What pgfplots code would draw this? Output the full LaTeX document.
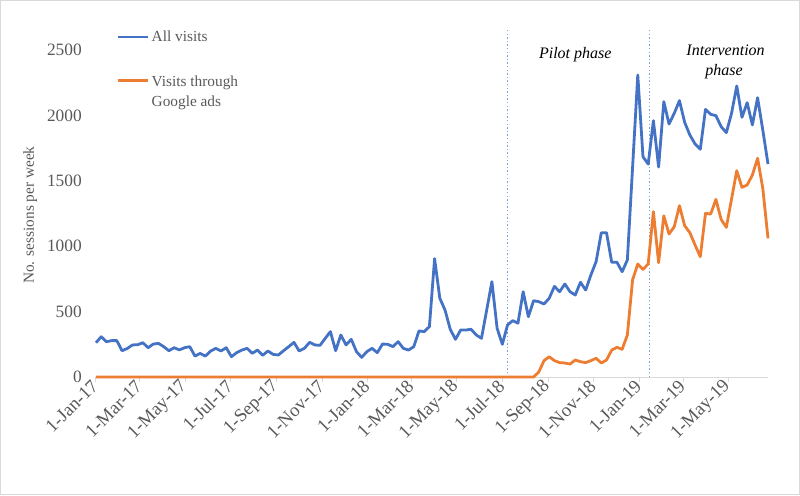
\documentclass[border=0pt]{standalone}
\usepackage{fontspec}
\setmainfont{Liberation Serif}
\usepackage{pgfplots}
\pgfplotsset{compat=1.18}
\usepackage{pgfplotstable}
\definecolor{exblue}{HTML}{4472C4}
\definecolor{exorange}{HTML}{ED7D31}
\definecolor{txtgray}{HTML}{595959}
\definecolor{axgray}{HTML}{D9D9D9}
\definecolor{dotblue}{HTML}{7EA0DC}
\newcommand\chartfont{\fontsize{11.5}{15}\selectfont}
\newcommand\tickfont{\fontsize{13}{15}\selectfont}
\newcommand\xtickfont{\fontsize{14}{16}\selectfont}

\pgfplotstableread{
day all ads
0 262 0
7 308 0
14 270 0
21 278 0
28 278 0
35 201 0
42 218 0
49 245 0
56 247 0
63 262 0
70 224 0
77 252 0
84 257 0
91 232 0
98 201 0
105 224 0
112 207 0
119 224 0
126 232 0
133 160 0
140 180 0
147 160 0
154 198 0
161 219 0
168 199 0
175 224 0
182 155 0
189 186 0
196 206 0
203 219 0
210 181 0
217 206 0
224 166 0
231 199 0
238 173 0
245 168 0
252 201 0
259 232 0
266 265 0
273 199 0
280 219 0
287 265 0
294 245 0
301 242 0
308 295 0
315 347 0
322 201 0
329 321 0
336 245 0
343 288 0
350 194 0
357 150 0
364 194 0
371 219 0
378 186 0
385 252 0
392 250 0
399 232 0
406 270 0
413 219 0
420 206 0
427 232 0
434 352 0
441 347 0
448 385 0
455 905 0
462 602 0
469 512 0
476 365 0
483 288 0
490 359 0
497 359 0
504 365 0
511 321 0
518 296 0
525 512 0
532 729 0
539 372 0
546 250 0
553 398 0
560 431 0
567 411 0
574 652 0
581 461 0
588 583 0
595 576 38
602 558 125
609 602 155
616 693 125
623 652 110
630 711 107
637 652 99
644 627 130
651 724 117
658 665 110
665 780 125
672 882 143
679 1103 107
686 1103 130
693 877 206
700 877 227
707 805 212
714 895 321
721 1600 742
728 2309 864
735 1684 823
742 1628 864
749 1960 1264
756 1605 874
763 2105 1233
770 1934 1093
777 2016 1149
784 2113 1310
791 1947 1157
798 1850 1103
805 1781 1009
812 1741 920
819 2046 1251
826 2008 1246
833 1998 1358
840 1914 1205
847 1868 1144
854 2016 1360
861 2225 1577
868 1985 1450
875 2097 1468
882 1927 1544
889 2135 1672
896 1888 1442
903 1628 1060
}\datatable

\begin{document}
\begin{tikzpicture}
\begin{axis}[
  scale only axis, width=504pt, height=245.25pt,
  xmin=0, xmax=903, ymin=0, ymax=2500,
  clip=false,
  axis x line*=bottom, axis y line*=left,
  x axis line style={draw=axgray, line width=0.75pt, -},
  y axis line style={draw=none},
  xtick={0,59,120,181,243,304,365,424,485,546,608,669,730,789,850},
  xticklabels={1-Jan-17,1-Mar-17,1-May-17,1-Jul-17,1-Sep-17,1-Nov-17,1-Jan-18,1-Mar-18,1-May-18,1-Jul-18,1-Sep-18,1-Nov-18,1-Jan-19,1-Mar-19,1-May-19},
  xtick style={draw=axgray, line width=0.75pt},
  tick align=outside,
  major tick length=4pt,
  ytick={0,500,1000,1500,2000,2500},
  ytick style={draw=none},
  xticklabel style={rotate=45, anchor=east, font=\xtickfont, text=txtgray, inner sep=1pt},
  yticklabel style={font=\tickfont, text=txtgray, inner sep=0pt, xshift=-6.5pt},
  /pgf/number format/assume math mode=true,
  /pgf/number format/1000 sep={},
  ylabel={No. sessions per week},
  every axis y label/.style={at={(rel axis cs:-0.098,0.495)}, rotate=90, anchor=center, font=\chartfont, text=txtgray},
  legend style={at={(rel axis cs:0.0238,1.076)}, anchor=north west, draw=none, fill=none, font=\chartfont, text=txtgray, row sep=18pt},
  legend cell align=left,
  legend image code/.code={\draw[#1] (0pt,0pt) -- (22.5pt,0pt);},
]
\addplot[forget plot, dotblue, dash pattern=on 1.1pt off 1.6pt, line width=1.1pt] coordinates {(553,0) (553,2650)};
\addplot[forget plot, dotblue, dash pattern=on 1.1pt off 1.6pt, line width=1.1pt] coordinates {(744,0) (744,2650)};
\addplot[exblue, line width=2.1pt, line join=round] table[x=day, y=all] {\datatable};
\addlegendentry{All visits}
\addplot[exorange, line width=2.1pt, line join=round] table[x=day, y=ads] {\datatable};
\addlegendentry{\begin{tabular}[t]{@{}l@{}}Visits through\\Google ads\end{tabular}}
\node[font=\fontsize{12}{15}\selectfont\itshape] at (axis cs:644,2462) {Pilot phase};
\node[font=\fontsize{12}{15}\selectfont\itshape] at (axis cs:846,2500) {Intervention};
\node[font=\fontsize{12}{15}\selectfont\itshape] at (axis cs:844,2332) {phase};
\path (rel axis cs:-0.142857,-0.360856) rectangle (rel axis cs:1.047619,1.152905);
\draw[axgray, line width=0.75pt] (rel axis cs:-0.14211,-0.35933) rectangle (rel axis cs:1.04688,1.15138);
\end{axis}
\end{tikzpicture}
\end{document}
